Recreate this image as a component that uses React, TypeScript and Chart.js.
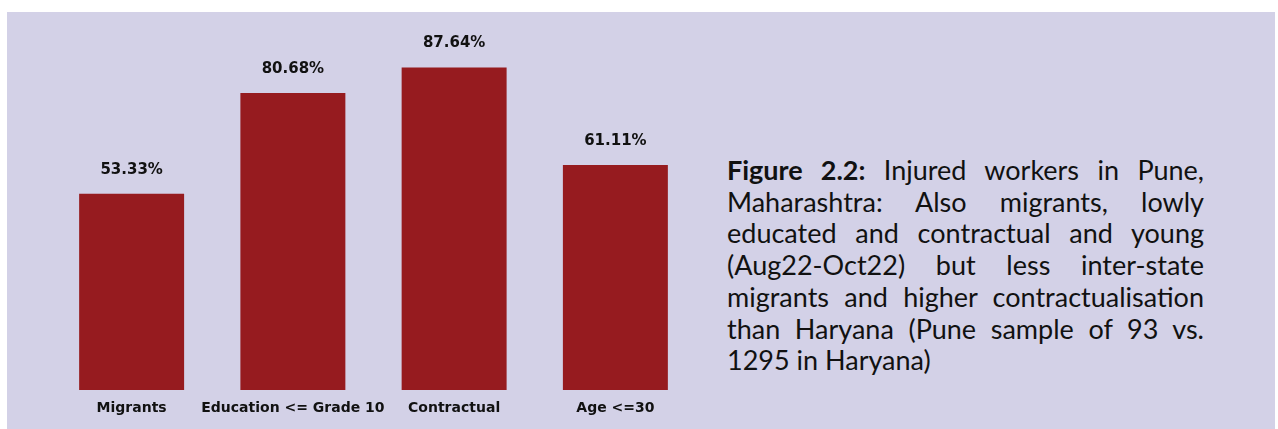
import React, { useEffect, useRef } from 'react';
import { Chart, registerables } from 'chart.js';

Chart.register(...registerables);

const categories: string[] = ['Migrants', 'Education <= Grade 10', 'Contractual', 'Age <=30'];
const values: number[] = [53.33, 80.68, 87.64, 61.11];
const valueLabels: string[] = ['53.33%', '80.68%', '87.64%', '61.11%'];

const BG = '#d3d1e7';
const BAR = '#961b1f';
const TEXT = '#111111';

const valueLabelPlugin = {
  id: 'valueLabels',
  afterDatasetsDraw(chart: any) {
    const ctx = chart.ctx;
    const meta = chart.getDatasetMeta(0);
    ctx.save();
    ctx.font = 'bold 15px "DejaVu Sans"';
    ctx.fillStyle = TEXT;
    ctx.textAlign = 'center';
    ctx.textBaseline = 'middle';
    meta.data.forEach((el: any, i: number) => {
      ctx.fillText(valueLabels[i], el.x, el.y - 24);
    });
    ctx.restore();
  },
};

export default function App() {
  const canvasRef = useRef<HTMLCanvasElement | null>(null);

  useEffect(() => {
    document.body.style.margin = '0';
    const canvas = canvasRef.current;
    if (!canvas) return;
    const chart = new Chart(canvas, {
      type: 'bar',
      data: {
        labels: categories,
        datasets: [
          {
            data: values,
            backgroundColor: BAR,
            borderWidth: 0,
            barPercentage: 0.651,
            categoryPercentage: 1,
          },
        ],
      },
      options: {
        animation: false,
        responsive: false,
        maintainAspectRatio: false,
        layout: { padding: { left: 51, right: 14, top: 22, bottom: 0 } },
        plugins: {
          legend: { display: false },
          tooltip: { enabled: false },
          title: { display: false },
        },
        scales: {
          x: {
            grid: { display: false, drawTicks: false },
            border: { display: false },
            ticks: {
              color: TEXT,
              padding: 10,
              maxRotation: 0,
              autoSkip: false,
              font: { family: '"DejaVu Sans"', weight: 'bold', size: 14 },
            },
            afterFit: (scale: any) => {
              scale.height = 39;
            },
          },
          y: {
            display: false,
            min: 0,
            max: 100,
          },
        },
      },
      plugins: [valueLabelPlugin],
    });
    return () => chart.destroy();
  }, []);

  return (
    <div style={{ position: 'relative', width: 1278, height: 429, background: '#ffffff', overflow: 'hidden' }}>
      <div style={{ position: 'absolute', left: 7, top: 12, width: 1268, height: 417, background: BG }} />
      <canvas
        ref={canvasRef}
        width={710}
        height={429}
        style={{ position: 'absolute', left: 0, top: 0, width: 710, height: 429 }}
      />
      <div
        style={{
          position: 'absolute',
          left: 727,
          top: 154,
          width: 477,
          fontFamily: 'Lato, sans-serif',
          fontSize: 27,
          lineHeight: '31.7px',
          textAlign: 'justify',
          color: TEXT,
        }}
      >
        <b>Figure 2.2:</b> Injured workers in Pune, Maharashtra: Also migrants, lowly educated and contractual and
        young (Aug22-Oct22) but less inter-state migrants and higher contractualisation than Haryana (Pune sample of
        93 vs. 1295 in Haryana)
      </div>
    </div>
  );
}
